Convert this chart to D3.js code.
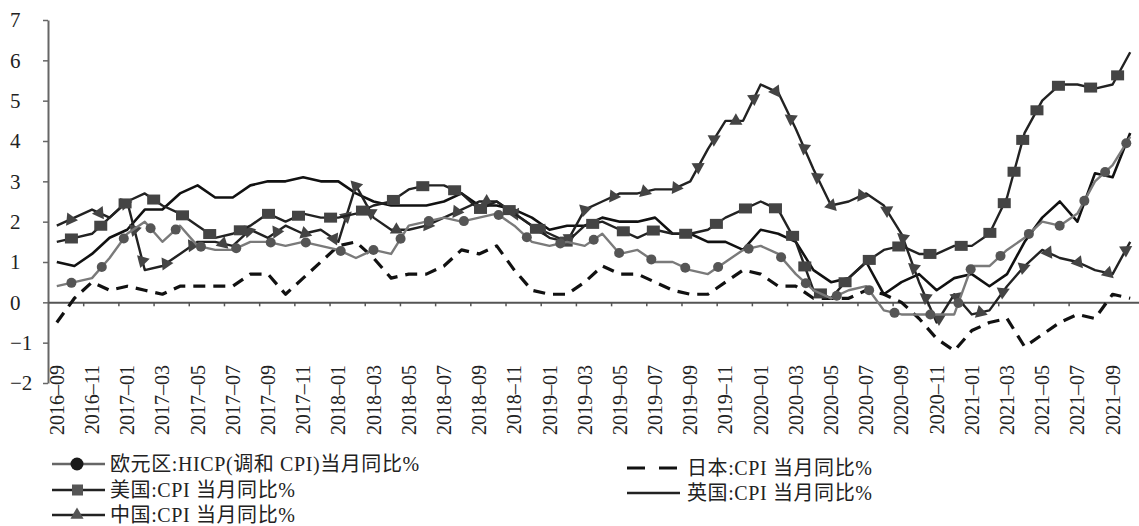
<!DOCTYPE html>
<html>
<head>
<meta charset="utf-8">
<script src="https://cdn.jsdelivr.net/npm/d3@7"></script>
<style>
	body { margin: 0; background: #fff; }
	svg { display: block; }
	text { font-family: "Liberation Serif", "Noto Sans CJK SC", serif; fill: #222; }
</style>
</head>
<body>
<div id="chart"></div>
<script>
// months 2016-09 .. 2021-10
const months = d3.utcMonth.range(new Date(Date.UTC(2016, 8, 1)), new Date(Date.UTC(2021, 10, 1)))
	.map(d3.utcFormat("%Y–%m"));

const yTicks = [-2, -1, 0, 1, 2, 3, 4, 5, 6, 7];

const euro = [0.4, 0.5, 0.6, 1.1,
	1.7, 2.0, 1.5, 1.9, 1.4, 1.3, 1.3, 1.5, 1.5, 1.4, 1.5, 1.4,
	1.3, 1.1, 1.3, 1.2, 1.9, 2.0, 2.1, 2.0, 2.1, 2.2, 1.9, 1.5,
	1.4, 1.5, 1.4, 1.7, 1.2, 1.3, 1.0, 1.0, 0.8, 0.7, 1.0, 1.3,
	1.4, 1.2, 0.7, 0.3, 0.1, 0.3, 0.4, -0.2, -0.3, -0.3, -0.3, -0.3,
	0.9, 0.9, 1.3, 1.6, 2.0, 1.9, 2.2, 3.0, 3.4, 4.1];
const us = [1.5, 1.6, 1.7, 2.1,
	2.5, 2.7, 2.4, 2.2, 1.9, 1.6, 1.7, 1.9, 2.2, 2.0, 2.2, 2.1,
	2.1, 2.2, 2.4, 2.5, 2.8, 2.9, 2.9, 2.7, 2.3, 2.5, 2.2, 1.9,
	1.6, 1.5, 1.9, 2.0, 1.8, 1.6, 1.8, 1.7, 1.7, 1.8, 2.1, 2.3,
	2.5, 2.3, 1.5, 0.3, 0.1, 0.6, 1.0, 1.3, 1.4, 1.2, 1.2, 1.4,
	1.4, 1.7, 2.6, 4.2, 5.0, 5.4, 5.4, 5.3, 5.4, 6.2];
const china = [1.9, 2.1, 2.3, 2.1,
	2.5, 0.8, 0.9, 1.2, 1.5, 1.5, 1.4, 1.8, 1.6, 1.9, 1.7, 1.8,
	1.5, 2.9, 2.1, 1.8, 1.8, 1.9, 2.1, 2.3, 2.5, 2.5, 2.2, 1.9,
	1.7, 1.5, 2.3, 2.5, 2.7, 2.7, 2.8, 2.8, 3.0, 3.8, 4.5, 4.5,
	5.4, 5.2, 4.3, 3.3, 2.4, 2.5, 2.7, 2.4, 1.7, 0.5, -0.5, 0.2,
	-0.3, -0.2, 0.4, 0.9, 1.3, 1.1, 1.0, 0.8, 0.7, 1.5];
const japan = [-0.5, 0.1, 0.5, 0.3,
	0.4, 0.3, 0.2, 0.4, 0.4, 0.4, 0.4, 0.7, 0.7, 0.2, 0.6, 1.0,
	1.4, 1.5, 1.1, 0.6, 0.7, 0.7, 0.9, 1.3, 1.2, 1.4, 0.8, 0.3,
	0.2, 0.2, 0.5, 0.9, 0.7, 0.7, 0.5, 0.3, 0.2, 0.2, 0.5, 0.8,
	0.7, 0.4, 0.4, 0.1, 0.1, 0.1, 0.3, 0.2, 0.0, -0.4, -0.9, -1.2,
	-0.7, -0.5, -0.4, -1.1, -0.8, -0.5, -0.3, -0.4, 0.2, 0.1];
const uk = [1.0, 0.9, 1.2, 1.6,
	1.8, 2.3, 2.3, 2.7, 2.9, 2.6, 2.6, 2.9, 3.0, 3.0, 3.1, 3.0,
	3.0, 2.7, 2.5, 2.4, 2.4, 2.4, 2.5, 2.7, 2.4, 2.4, 2.3, 2.1,
	1.8, 1.9, 1.9, 2.1, 2.0, 2.0, 2.1, 1.7, 1.7, 1.5, 1.5, 1.3,
	1.8, 1.7, 1.5, 0.8, 0.5, 0.6, 1.0, 0.2, 0.5, 0.7, 0.3, 0.6,
	0.7, 0.4, 0.7, 1.5, 2.1, 2.5, 2.0, 3.2, 3.1, 4.2];

const seriesNames = ["欧元区:HICP(调和 CPI)当月同比%", "美国:CPI 当月同比%", "中国:CPI 当月同比%",
	"日本:CPI 当月同比%", "英国:CPI 当月同比%"];

const width = 1139, height = 526;
const svg = d3.select("#chart").append("svg")
	.attr("width", width)
	.attr("height", height);

const x = d3.scaleBand().domain(months).range([48, 1139]);
const cx = m => x(m) + x.bandwidth() / 2;
const y = d3.scaleLinear().domain([-2, 7]).range([383, 20]);
// band edges, used for the x tick marks
const xEdge = d3.scaleLinear().domain([0, months.length]).range([48, 1139]);

// y axis
const yAxis = svg.append("g")
	.attr("transform", "translate(48,0)")
	.call(d3.axisLeft(y).tickValues(yTicks).tickSize(5).tickSizeOuter(0));
yAxis.select(".domain").attr("stroke", "#666").attr("stroke-width", 2);
yAxis.selectAll(".tick line").attr("stroke", "#666").attr("stroke-width", 1.5);
yAxis.selectAll("text")
	.attr("text-anchor", "start")
	.attr("x", -38)
	.style("font-size", "21px")
	.style("font-family", "Liberation Serif");

// x axis line at zero with tick marks every 2 months
const xAxis = svg.append("g")
	.attr("transform", `translate(0,${y(0)})`)
	.call(d3.axisBottom(xEdge)
		.tickValues(d3.range(2, months.length, 2))
		.tickSize(4).tickSizeOuter(0).tickFormat(""));
xAxis.select(".domain").attr("stroke", "#555").attr("stroke-width", 2);
xAxis.selectAll(".tick line").attr("stroke", "#555").attr("stroke-width", 1.5);

// rotated month labels
const xLabels = svg.append("g")
	.attr("transform", "translate(0,365)")
	.call(d3.axisBottom(x).tickValues(months.filter((d, i) => i % 2 == 0)).tickSize(0));
xLabels.select(".domain").remove();
xLabels.selectAll("text")
	.attr("transform", "rotate(-90)")
	.attr("text-anchor", "end")
	.attr("x", 0)
	.attr("y", 0)
	.attr("dy", "0.35em")
	.style("font-size", "20px")
	.style("font-family", "Liberation Serif");

const line = d3.line()
	.x((d, i) => cx(months[i]))
	.y(d => y(d));

const plot = svg.append("g");

function drawSeries(values, stroke, strokeWidth, dash) {
	return plot.append("path")
		.datum(values)
		.attr("fill", "none")
		.attr("stroke", stroke)
		.attr("stroke-width", strokeWidth)
		.attr("stroke-linejoin", "round")
		.attr("stroke-dasharray", dash)
		.attr("d", line);
}

// markers are spread along the length of the line
function markerPoints(path, start, step) {
	let node = path.node();
	let total = node.getTotalLength();
	let pts = [];
	for (let l = start; l < total; l += step) {
		let p = node.getPointAtLength(l);
		let a = node.getPointAtLength(Math.max(0, l - 2));
		let b = node.getPointAtLength(Math.min(total, l + 2));
		pts.push({ x: p.x, y: p.y, angle: Math.atan2(b.y - a.y, b.x - a.x) * 180 / Math.PI });
	}
	return pts;
}

const triangle = d3.symbol().type(d3.symbolTriangle).size(75);

drawSeries(japan, "#111", 3.2, "12,8");
drawSeries(uk, "#111", 2.6, null);

const chinaPath = drawSeries(china, "#222", 2.4, null);
plot.append("g").selectAll("path")
	.data(markerPoints(chinaPath, 15, 32))
	.enter().append("path")
	.attr("d", triangle)
	.attr("fill", "#444")
	.attr("transform", d => `translate(${d.x},${d.y}) rotate(${d.angle})`);

const usPath = drawSeries(us, "#222", 2.4, null);
plot.append("g").selectAll("rect")
	.data(markerPoints(usPath, 15, 33))
	.enter().append("rect")
	.attr("x", d => d.x - 6.5)
	.attr("y", d => d.y - 5)
	.attr("width", 13)
	.attr("height", 10)
	.attr("fill", "#444");

const euroPath = drawSeries(euro, "#7a7a7a", 2.4, null);
plot.append("g").selectAll("circle")
	.data(markerPoints(euroPath, 15, 36))
	.enter().append("circle")
	.attr("cx", d => d.x)
	.attr("cy", d => d.y)
	.attr("r", 5)
	.attr("fill", "#555");

// legend
const legend = svg.append("g").style("font-size", "20px");
const legendItems = [
	{ name: seriesNames[0], lx: 52, ly: 464, marker: "circle" },
	{ name: seriesNames[1], lx: 52, ly: 490, marker: "square" },
	{ name: seriesNames[2], lx: 52, ly: 515, marker: "triangle" },
	{ name: seriesNames[3], lx: 627, ly: 468, marker: "dash" },
	{ name: seriesNames[4], lx: 627, ly: 493, marker: "solid" }
];
legendItems.forEach(item => {
	let g = legend.append("g").attr("transform", `translate(${item.lx},${item.ly})`);
	if (item.marker == "dash") {
		g.append("line").attr("x1", 0).attr("x2", 52).attr("stroke", "#111")
			.attr("stroke-width", 3.2).attr("stroke-dasharray", "18,14");
	} else {
		g.append("line").attr("x1", 0).attr("x2", 53)
			.attr("stroke", item.marker == "circle" ? "#666" : "#222")
			.attr("stroke-width", item.marker == "solid" ? 2.6 : 2.4);
	}
	if (item.marker == "circle") {
		g.append("circle").attr("cx", 25).attr("r", 6.5).attr("fill", "#1a1a1a");
	} else if (item.marker == "square") {
		g.append("rect").attr("x", 20).attr("y", -5.5).attr("width", 11).attr("height", 11).attr("fill", "#555");
	} else if (item.marker == "triangle") {
		g.append("path").attr("d", triangle).attr("transform", "translate(25,0)").attr("fill", "#555");
	}
	g.append("text")
		.attr("x", item.lx < 100 ? 58 : 60)
		.attr("dy", "0.35em")
		.style("letter-spacing", "0.6px")
		.text(item.name);
});
</script>
</body>
</html>
